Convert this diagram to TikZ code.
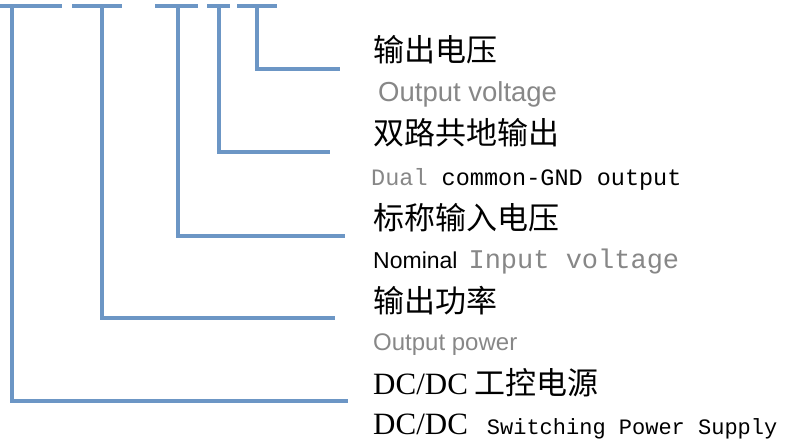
\documentclass[tikz,border=0pt]{standalone}
\usepackage{fontspec}
\setmainfont{Liberation Serif}
\newfontfamily\cjk{Noto Sans CJK SC}
\newfontfamily\arial{Liberation Sans}
\newfontfamily\mono{Liberation Mono}
\usetikzlibrary{positioning}
\definecolor{leadblue}{RGB}{108,150,197}
\definecolor{labelgray}{RGB}{135,135,135}
\newcommand{\fs}[1]{\fontsize{#1}{#1}\selectfont}

\begin{document}
\begin{tikzpicture}[
    x=1pt, y=-1pt,
    lead/.style={draw=leadblue, line width=3.4pt},
    zh/.style={anchor=base west, inner sep=0pt, font=\cjk\fs{31}},
    en/.style={anchor=base west, inner sep=0pt}
]

\useasboundingbox (0,0) rectangle (795,441);

\foreach \a/\b in {0/62, 72/122, 155/198, 207/230, 237/277}
    \draw[lead] (\a,6) -- (\b,6);

\coordinate (tVout) at (257,6);
\coordinate (tDual) at (219,6);
\coordinate (tVin) at (178,6);
\coordinate (tPow) at (102,6);
\coordinate (tSer) at (12,6);
\coordinate (eVout) at (340,69);
\coordinate (eDual) at (330,152);
\coordinate (eVin) at (345,236);
\coordinate (ePow) at (335,318);
\coordinate (eSer) at (348,401);

\node[zh] (Vout) at (373,62) {输出电压};
\node[en, font=\arial\fs{27.5}, text=labelgray] (VoutEn) at (378,102) {Output voltage};
\node[zh] (Dual) at (373,145) {双路共地输出};
\node[en, font=\mono\fs{23.5}] (DualEn) at (371,185) {\textcolor{labelgray}{Dual} common-GND output};
\node[zh] (Vin) at (373,229) {标称输入电压};
\node[en] (VinEn) at (373,268) {{\arial\fs{23}Nominal}\hspace{11pt}{\mono\fs{27}\textcolor{labelgray}{Input voltage}}};
\node[zh] (Pow) at (373,312) {输出功率};
\node[en, font=\arial\fs{24}, text=labelgray] (PowEn) at (373,350) {Output power};
\node[zh] (Ser) at (373,394) {{\rmfamily\fs{31}DC/DC} 工控电源};
\node[en] (SerEn) at (373,434) {{\fs{31}DC/DC}\hspace{19pt}{\mono\fs{22}Switching Power Supply}};

\draw[lead] (tVout) |- (eVout);
\draw[lead] (tDual) |- (eDual);
\draw[lead] (tVin) |- (eVin);
\draw[lead] (tPow) |- (ePow);
\draw[lead] (tSer) |- (eSer);

\end{tikzpicture}
\end{document}
